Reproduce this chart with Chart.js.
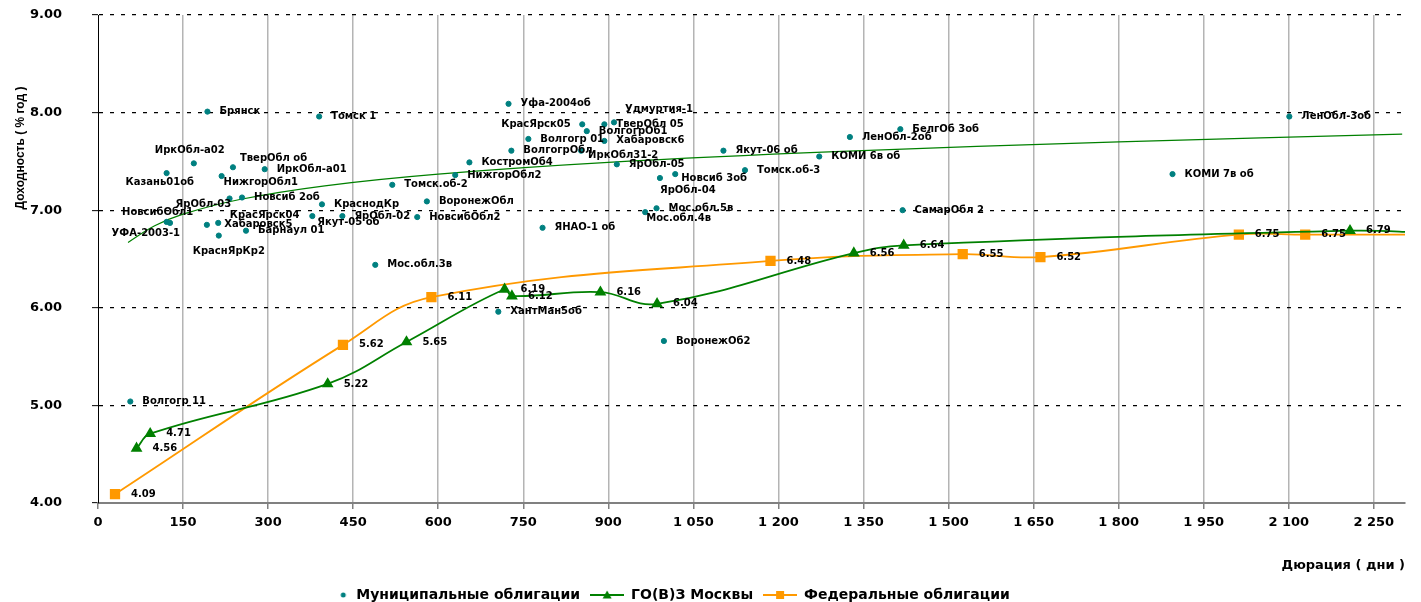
<!DOCTYPE html>
<html>
<head>
<meta charset="utf-8">
<script src="https://cdn.jsdelivr.net/npm/chart.js@4.4.1/dist/chart.umd.min.js"></script>
<style>
  html, body { margin: 0; padding: 0; background: #fff; }
</style>
</head>
<body>
<canvas id="bondChart" width="1421" height="602"></canvas>
<script>
// Муниципальные облигации
const muniNames = ["Брянск", "Томск 1", "ИркОбл-а02", "Казань01об", "ТверОбл об", "ИркОбл-а01", "НижгорОбл1",
  "ЯрОбл-03", "Новсиб 2об", "НовсибОбл1", "УФА-2003-1", "КрасЯрск04", "Хабаровск5", "КраснЯрКр2", "Барнаул 01",
  "КраснодКр", "Якут-05 об", "ЯрОбл-02", "Уфа-2004об", "КрасЯрск05", "ТверОбл 05", "Удмуртия-1", "ВолгогрОб1",
  "Хабаровск6", "Волгогр 01", "ВолгогрОбл", "ИркОбл31-2", "ЯрОбл-05", "КостромОб4", "НижгорОбл2", "Томск.об-2",
  "ВоронежОбл", "НовсибОбл2", "ЯНАО-1 об", "Мос.обл.3в", "Новсиб 3об", "ЯрОбл-04", "Томск.об-3", "Якут-06 об",
  "Мос.обл.5в", "Мос.обл.4в", "КОМИ 6в об", "БелгОб 3об", "ЛенОбл-2об", "СамарОбл 2", "ЛенОбл-3об", "КОМИ 7в об",
  "Волгогр 11", "ХантМан5об", "ВоронежОб2"];
const muniDur = [193, 390, 169, 121, 238, 294, 218,
  232, 254, 127, 121, 192, 212, 213, 261,
  395, 378, 431, 724, 854, 893, 910, 862,
  893, 759, 729, 852, 915, 655, 630, 519,
  580, 563, 784, 489, 1018, 991, 1141, 1103,
  985, 965, 1272, 1415, 1326, 1419, 2101, 1895,
  57, 706, 998];
const muniYield = [8.01, 7.96, 7.48, 7.38, 7.44, 7.42, 7.35,
  7.12, 7.13, 6.87, 6.88, 6.85, 6.87, 6.74, 6.79,
  7.06, 6.94, 6.94, 8.09, 7.88, 7.88, 7.90, 7.81,
  7.71, 7.73, 7.61, 7.61, 7.47, 7.49, 7.36, 7.26,
  7.09, 6.93, 6.82, 6.44, 7.37, 7.33, 7.41, 7.61,
  7.02, 6.98, 7.55, 7.83, 7.75, 7.00, 7.96, 7.37,
  5.04, 5.96, 5.66];

// линия тренда муниципальных облигаций
const trendDur = [53, 100, 150, 250, 400, 600, 900, 1300, 1800, 2300];
const trendYield = [6.67, 6.84, 6.96, 7.11, 7.25, 7.37, 7.49, 7.60, 7.70, 7.78];

// ГО(В)З Москвы
const moscowDur = [68, 92, 405, 544, 717, 730, 886, 986, 1333, 1421, 2208, 2345];
const moscowYield = [4.56, 4.71, 5.22, 5.65, 6.19, 6.12, 6.16, 6.04, 6.56, 6.64, 6.79, 6.77];

// Федеральные облигации
const fedDur = [30, 432, 588, 1186, 1525, 1662, 2012, 2129, 2345];
const fedYield = [4.09, 5.62, 6.11, 6.48, 6.55, 6.52, 6.75, 6.75, 6.75];

// где стоят подписи, если не справа от точки
const muniLabelShift = {
  "ИркОбл-а02": [-39, -13], "Казань01об": [-41, 9], "ТверОбл об": [7, -9], "НижгорОбл1": [2, 6],
  "ЯрОбл-03": [-54, 6], "НовсибОбл1": [-48, -10], "УФА-2003-1": [-55, 11], "КрасЯрск04": [23, -9],
  "Хабаровск5": [6, 2], "КраснЯрКр2": [-26, 16], "Якут-05 об": [5, 6], "КрасЯрск05": [-81, 0],
  "Удмуртия-1": [11, -13], "ИркОбл31-2": [7, 5], "Новсиб 3об": [6, 4], "ЯрОбл-04": [0, 12],
  "Мос.обл.4в": [1, 6]
};

const TEAL = "#008080";
const GREEN = "#008000";
const ORANGE = "#ff9900";

function toPoints(xs, ys) {
  return xs.map((x, i) => ({ x: x, y: ys[i] }));
}

function legendIcon(color, marker) {
  const c = document.createElement("canvas");
  c.width = 34; c.height = 12;
  const g = c.getContext("2d");
  g.fillStyle = color;
  g.strokeStyle = color;
  if (marker === "dot") {
    g.beginPath(); g.arc(28, 6, 2.5, 0, Math.PI * 2); g.fill();
    return c;
  }
  g.lineWidth = 2;
  g.beginPath(); g.moveTo(0, 6); g.lineTo(34, 6); g.stroke();
  g.beginPath();
  if (marker === "triangle") {
    g.moveTo(17, 1.5); g.lineTo(21.5, 9.5); g.lineTo(12.5, 9.5); g.closePath();
  } else {
    g.rect(13, 2, 8, 8);
  }
  g.fill();
  return c;
}

const pointLabels = {
  id: "pointLabels",
  afterDatasetsDraw(chart) {
    const ctx = chart.ctx;
    const area = chart.chartArea;
    ctx.save();
    ctx.fillStyle = "#000";
    ctx.textAlign = "left";
    ctx.textBaseline = "middle";
    ctx.font = "bold 10px 'DejaVu Sans'";
    chart.data.datasets.forEach((ds, i) => {
      if (!ds.labelKind) return;
      const meta = chart.getDatasetMeta(i);
      meta.data.forEach((pt, j) => {
        if (pt.x > area.right) return;
        let text, shift;
        if (ds.labelKind === "names") {
          text = muniNames[j];
          shift = muniLabelShift[text] || [12, 0];
        } else {
          text = ds.data[j].y.toFixed(2);
          shift = [16, 0];
        }
        ctx.fillText(text, pt.x + shift[0], pt.y + shift[1]);
      });
    });
    ctx.restore();
  }
};

const yTitle = {
  id: "yTitle",
  afterLayout(chart) {
    // легенда в оригинале стоит левее центра
    chart.legend.left -= 55;
    chart.legend.right -= 55;
  },
  afterDraw(chart) {
    const ctx = chart.ctx;
    ctx.save();
    ctx.translate(21, 148);
    ctx.rotate(-Math.PI / 2);
    ctx.fillStyle = "#000";
    ctx.font = "bold 12px 'Liberation Sans'";
    ctx.textAlign = "center";
    ctx.textBaseline = "middle";
    ctx.fillText("Доходность ( % год )", 0, 0);
    ctx.restore();
  }
};

Chart.defaults.font.family = "'DejaVu Sans'";
Chart.defaults.font.weight = "bold";
Chart.defaults.color = "#000";

new Chart(document.getElementById("bondChart"), {
  type: "scatter",
  data: {
    datasets: [
      {
        label: "Муниципальные облигации",
        data: toPoints(muniDur, muniYield),
        backgroundColor: TEAL, borderColor: TEAL,
        pointRadius: 2.6, pointHoverRadius: 2.6,
        labelKind: "names", legendMarker: "dot"
      },
      {
        label: "trend",
        data: toPoints(trendDur, trendYield),
        showLine: true, borderColor: GREEN, borderWidth: 1.2,
        pointRadius: 0, tension: 0.4
      },
      {
        label: "ГО(В)З Москвы",
        data: toPoints(moscowDur, moscowYield),
        showLine: true, borderColor: GREEN, backgroundColor: GREEN, borderWidth: 1.8,
        pointStyle: "triangle", pointRadius: 5, pointHoverRadius: 5, tension: 0.4,
        labelKind: "values", legendMarker: "triangle"
      },
      {
        label: "Федеральные облигации",
        data: toPoints(fedDur, fedYield),
        showLine: true, borderColor: ORANGE, backgroundColor: ORANGE, borderWidth: 1.8,
        pointStyle: "rect", pointRadius: 6, pointHoverRadius: 6, tension: 0.4,
        labelKind: "values", legendMarker: "rect"
      }
    ]
  },
  options: {
    responsive: false,
    animation: false,
    layout: { autoPadding: false, padding: { top: 15, right: 16, left: 30, bottom: -10 } },
    plugins: {
      tooltip: { enabled: false },
      legend: {
        position: "bottom",
        labels: {
          usePointStyle: true,
          pointStyleWidth: 34,
          padding: 10,
          font: { size: 14, weight: "bold" },
          generateLabels(chart) {
            return chart.data.datasets
              .map((ds, i) => ({ ds, i }))
              .filter(o => o.ds.legendMarker)
              .map(o => ({
                text: o.ds.label,
                datasetIndex: o.i,
                pointStyle: legendIcon(o.ds.borderColor, o.ds.legendMarker),
                fillStyle: o.ds.borderColor,
                strokeStyle: o.ds.borderColor,
                lineWidth: 0,
                fontColor: "#000"
              }));
          }
        }
      }
    },
    scales: {
      x: {
        type: "linear",
        min: 0, max: 2305,
        afterFit(scale) { scale.height = 75; },
        ticks: {
          stepSize: 150, includeBounds: false, padding: 6,
          font: { size: 13, weight: "bold" },
          callback: v => String(v).replace(/\B(?=(\d{3})+(?!\d))/g, " ")
        },
        grid: {
          color: ctx => ctx.index === 0 ? "rgba(0,0,0,0)" : "#b4b4b4",
          lineWidth: 1.5, tickLength: 6, tickColor: "#808080", tickWidth: 1.5
        },
        border: { color: "#808080", width: 2 },
        title: {
          display: true, text: "Дюрация ( дни )", align: "end",
          font: { size: 13, weight: "bold" }, padding: { top: 0, bottom: 5 }
        }
      },
      y: {
        min: 4, max: 9,
        afterFit(scale) { scale.width = 68; },
        ticks: {
          stepSize: 1, padding: 0, crossAlign: "far",
          font: { size: 13, weight: "bold" },
          callback: v => v.toFixed(2)
        },
        grid: {
          color: ctx => ctx.tick && ctx.tick.value === 4 ? "rgba(0,0,0,0)" : "#000",
          lineWidth: 1.3, tickLength: 6, tickColor: "#000", tickWidth: 1
        },
        border: { color: "#000", width: 1, dash: [4, 7] }
      }
    }
  },
  plugins: [pointLabels, yTitle]
});
</script>
</body>
</html>
